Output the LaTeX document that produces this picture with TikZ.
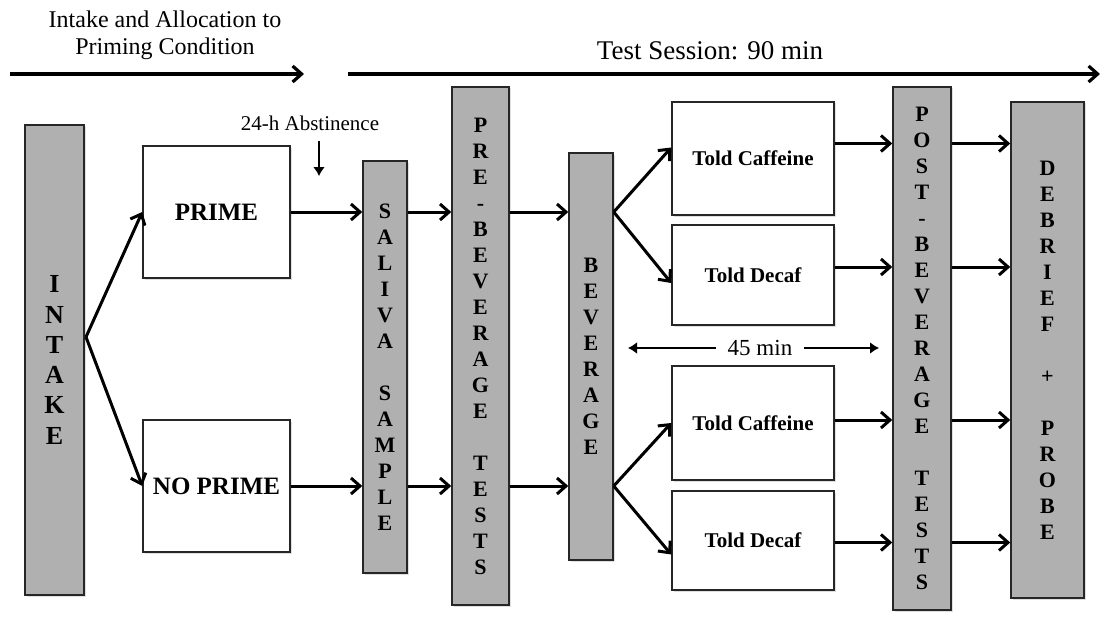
\documentclass[tikz,border=0pt]{standalone}
\usepackage{fontspec}
\setmainfont{Liberation Serif}
\usetikzlibrary{arrows.meta,shadows}
\definecolor{barfill}{RGB}{176,176,176}

\begin{document}
\begin{tikzpicture}[x=1pt,y=-1pt,
  box/.style={draw=black!85, line width=1.5pt, inner sep=0pt, align=center,
    drop shadow={shadow xshift=1.5pt,shadow yshift=-1.5pt,opacity=0.25}},
  bar/.style={box, fill=barfill, font=\bfseries\fontsize{22}{26}\selectfont},
  cond/.style={box, fill=white, font=\bfseries\fontsize{25}{29}\selectfont},
  told/.style={box, fill=white, font=\bfseries\fontsize{21}{25}\selectfont, minimum width=162pt},
  flow/.style={line width=3pt, -{Straight Barb[length=9pt,width=16pt]}},
  phase/.style={line width=3.2pt, -{Straight Barb[length=9pt,width=16pt]}},
  note/.style={line width=2.8pt, -{Latex[length=9pt,width=12pt]}}]
\useasboundingbox (0,0) rectangle (1104,634);

% phase labels and time lines
\node[align=center, font=\fontsize{24}{27}\selectfont] (phase1) at (165,35) {Intake and Allocation to\\Priming Condition};
\node[anchor=base, font=\fontsize{27}{30}\selectfont] (phase2) at (710,60) {Test Session: 90 min};
\coordinate (p1s) at (10,74);  \coordinate (p1e) at (304,74);
\coordinate (p2s) at (348,74); \coordinate (p2e) at (1100,74);
\draw[phase] (p1s) -- (p1e);
\draw[phase] (p2s) -- (p2e);

% bars and boxes
\node[bar, minimum width=59pt, minimum height=470pt, font=\bfseries\fontsize{26}{30.3}\selectfont] (intake) at (54.5,360) {I\\N\\T\\A\\K\\E};
\node[cond, minimum width=147pt, minimum height=132pt] (prime) at (216.5,212) {PRIME};
\node[cond, minimum width=147pt, minimum height=132pt] (noprime) at (216.5,486) {NO PRIME};
\node[bar, minimum width=44pt, minimum height=412pt] (saliva) at (385,367) {S\\A\\L\\I\\V\\A\\~\\S\\A\\M\\P\\L\\E};
\node[bar, minimum width=57pt, minimum height=518pt] (pre) at (480.5,346) {P\\R\\E\\-\\B\\E\\V\\E\\R\\A\\G\\E\\~\\T\\E\\S\\T\\S};
\node[bar, minimum width=44pt, minimum height=407pt] (bev) at (591,356.5) {B\\E\\V\\E\\R\\A\\G\\E};
\node[told, minimum height=113pt] (tc1) at (753,158.5) {Told Caffeine};
\node[told, minimum height=100pt] (td1) at (753,275) {Told Decaf};
\node[told, minimum height=114pt] (tc2) at (753,423) {Told Caffeine};
\node[told, minimum height=99pt] (td2) at (753,540.5) {Told Decaf};
\node[bar, minimum width=58pt, minimum height=523pt] (post) at (922,348.5) {P\\O\\S\\T\\-\\B\\E\\V\\E\\R\\A\\G\\E\\~\\T\\E\\S\\T\\S};
\node[bar, minimum width=73pt, minimum height=496pt] (debrief) at (1047.5,350) {D\\E\\B\\R\\I\\E\\F\\~\\+\\~\\P\\R\\O\\B\\E};

% abstinence
\node[anchor=base, font=\fontsize{21}{24}\selectfont] (abst) at (310,131) {24-h Abstinence};
\coordinate (abtop) at (319,141); \coordinate (abtip) at (319,176);
\draw[note] (abtop) -- (abtip);

% allocation
\coordinate (fork) at (86,337);
\draw[flow] (fork) -- (prime.west);
\draw[flow] (fork) -- (noprime.west);

% pre-beverage chain
\foreach \row in {prime,noprime} {
  \draw[flow] (\row.east) -- (saliva.west |- \row.east);
  \draw[flow] (saliva.east |- \row.east) -- (pre.west |- \row.east);
  \draw[flow] (pre.east |- \row.east) -- (bev.west |- \row.east);
}
\draw[flow] (bev.east |- prime.east) -- ([yshift=11pt]tc1.west);
\draw[flow] (bev.east |- prime.east) -- ([yshift=-8pt]td1.west);
\draw[flow] (bev.east |- noprime.east) -- (tc2.west);
\draw[flow] (bev.east |- noprime.east) -- ([yshift=-14pt]td2.west);

% post-beverage chain
\foreach \row/\dy in {tc1/15,td1/8,tc2/3,td2/-2} {
  \coordinate (\row o) at ([yshift=\dy pt]\row.east);
  \draw[flow] (\row o) -- (post.west |- \row o);
  \draw[flow] (post.east |- \row o) -- (debrief.west |- \row o);
}

% waiting time
\node[font=\fontsize{23}{26}\selectfont, inner xsep=12pt] (wait) at (760,348) {45 min};
\coordinate (wl) at (628,348); \coordinate (wr) at (879,348);
\draw[note] (wait) -- (wl);
\draw[note] (wait) -- (wr);
\end{tikzpicture}
\end{document}
